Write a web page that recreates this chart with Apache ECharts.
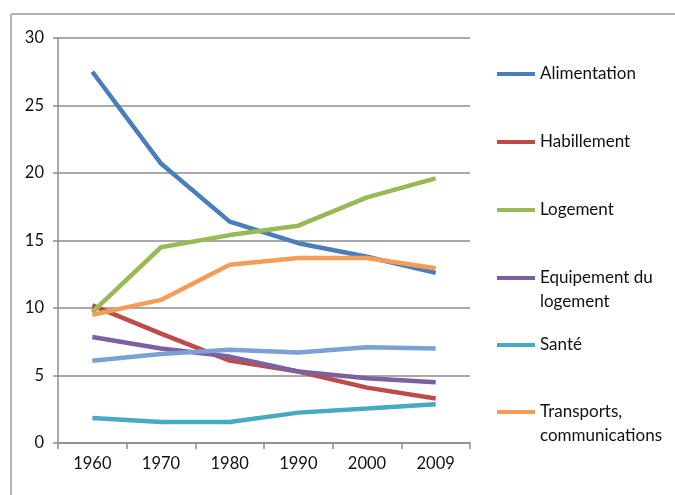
<!DOCTYPE html>
<html>
<head>
<meta charset="utf-8">
<script src="https://cdn.jsdelivr.net/npm/echarts@6/dist/echarts.min.js"></script>
<style>
html,body{margin:0;padding:0;background:#fff;}
#c{width:675px;height:495px;}
</style>
</head>
<body>
<div id="c"></div>
<script>
const years = ['1960','1970','1980','1990','2000','2009'];
const yTicks = [0,5,10,15,20,25,30];
const alimentation = [27.5, 20.7, 16.4, 14.8, 13.8, 12.6];
const habillement = [10.2, 8.1, 6.1, 5.3, 4.1, 3.3];
const logement = [9.7, 14.5, 15.4, 16.1, 18.2, 19.6];
const equipement = [7.85, 7.0, 6.4, 5.3, 4.8, 4.5];
const sante = [1.85, 1.55, 1.55, 2.25, 2.55, 2.87];
const transports = [9.5, 10.6, 13.2, 13.7, 13.7, 12.95];
const autres = [6.1, 6.6, 6.9, 6.7, 7.1, 7.0];

const names = ['Alimentation','Habillement','Logement','Equipement du\nlogement','Santé','Transports,\ncommunications'];
const colors = ['#4a7ebb','#be4b48','#98b954','#7d60a0','#46aac5','#f59d56'];
const seriesData = [alimentation, habillement, logement, equipement, sante, transports];
const legendTops = [74,142,210,278,345,412];
const font = 'Lato, "Open Sans", sans-serif';

const series = seriesData.map((d,i)=>({
  name: names[i], type:'line', data:d, symbol:'none',
  lineStyle:{width:4.5, color:colors[i]}, itemStyle:{color:colors[i]}
}));
series.push({name:'Autres', type:'line', data:autres, symbol:'none',
  lineStyle:{width:4.5,color:'#7ba0d4'}, itemStyle:{color:'#7ba0d4'}});

const LH = 24;
const legends = names.map((n,i)=>{
  const multi = n.indexOf('\n')>=0;
  return {
    data:[n], left:497, top: legendTops[i] - (multi ? 1.5*LH : 0.5*LH), itemWidth:38, itemHeight:4, itemGap:3,
    icon:'rect', padding:0, selectedMode:false,
    formatter: multi ? (nm => '\n' + nm) : undefined,
    textStyle:{fontFamily:font, fontSize:17, color:'#111', lineHeight:LH}
  };
});

const chart = echarts.init(document.getElementById('c'));
chart.setOption({
  animation:false,
  backgroundColor:'#fff',
  grid:{left:58, right:205, top:38, bottom:52, containLabel:false},
  legend: legends,
  xAxis:{type:'category', data:years, boundaryGap:true,
    axisLine:{lineStyle:{color:'#8c8c8c', width:1.5}},
    axisTick:{show:true, length:6, lineStyle:{color:'#8c8c8c', width:1.5}},
    axisLabel:{fontFamily:font, fontSize:16.5, color:'#111', margin:12}},
  yAxis:{type:'value', min:yTicks[0], max:yTicks[yTicks.length-1], interval:5,
    axisLine:{show:true, lineStyle:{color:'#8c8c8c', width:1.5}},
    axisTick:{show:true, length:5, lineStyle:{color:'#8c8c8c', width:1.5}},
    splitLine:{lineStyle:{color:'#8c8c8c', width:1.5}},
    axisLabel:{fontFamily:font, fontSize:16.5, color:'#111', margin:14}},
  graphic:[
    {type:'line', shape:{x1:11,y1:14,x2:675,y2:14}, style:{stroke:'#9a9a9a', lineWidth:1.5}},
    {type:'line', shape:{x1:11,y1:14,x2:11,y2:495}, style:{stroke:'#9a9a9a', lineWidth:1.5}}
  ],
  series: series
});
</script>
</body>
</html>
